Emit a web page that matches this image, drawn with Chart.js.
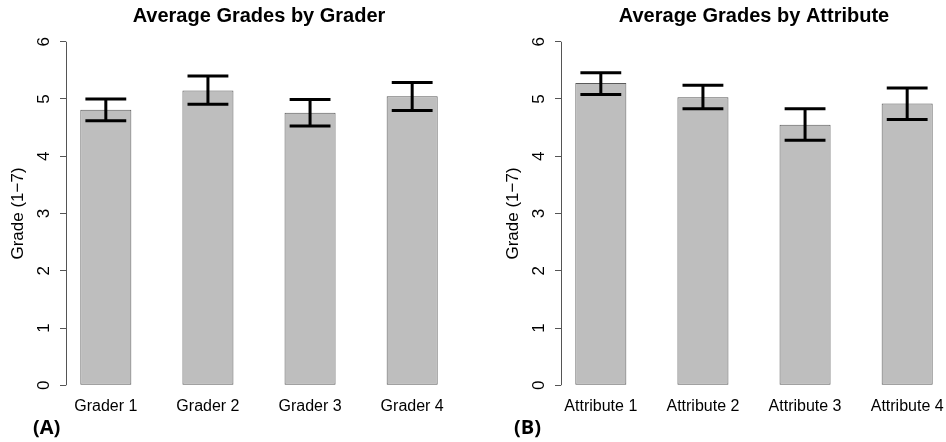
<!DOCTYPE html>
<html>
<head>
<meta charset="utf-8">
<script src="https://cdn.jsdelivr.net/npm/chart.js@4/dist/chart.umd.min.js"></script>
<style>
  html, body { margin: 0; padding: 0; background: #fff; overflow: hidden; }
  body { width: 946px; height: 442px; position: relative; }
  .panel { position: absolute; top: 0; width: 473px; height: 442px; }
  .tag { position: absolute; font: 700 20px "Open Sans", "Liberation Sans", sans-serif; line-height: 20px; color: #000; }
</style>
</head>
<body>
<div class="panel" style="left:0"><canvas id="graderChart" width="473" height="442"></canvas></div>
<div class="panel" style="left:495px"><canvas id="attributeChart" width="473" height="442"></canvas></div>
<div class="tag" style="left:33px; top:417px">(A)</div>
<div class="tag" style="left:514px; top:417px">(B)</div>
<script>
// Panel A: mean grade per grader with upper / lower error limits
const graders = ['Grader 1', 'Grader 2', 'Grader 3', 'Grader 4'];
const graderMeans = [4.81, 5.15, 4.76, 5.05];
const graderUpper = [5.00, 5.40, 4.99, 5.29];
const graderLower = [4.62, 4.91, 4.53, 4.80];

// Panel B: mean grade per attribute with upper / lower error limits
const attributes = ['Attribute 1', 'Attribute 2', 'Attribute 3', 'Attribute 4'];
const attributeMeans = [5.28, 5.03, 4.55, 4.92];
const attributeUpper = [5.46, 5.24, 4.83, 5.19];
const attributeLower = [5.08, 4.83, 4.28, 4.64];

// y-axis tick labels
const gradeTicks = [0, 1, 2, 3, 4, 5, 6];

const FONT = '"Liberation Sans", Arial, sans-serif';
const AXIS_COLOR = '#555555';

// bars sit at 1.5, 3.5, 5.5, ... (unit-wide bars with unit gaps)
const barPos = (i) => 2 * i + 1.5;

// Error bars: vertical whisker plus caps, positioned from the scales
const errorBars = {
  id: 'errorBars',
  afterDatasetsDraw(chart) {
    const ds = chart.data.datasets[0];
    const meta = chart.getDatasetMeta(0);
    const y = chart.scales.y;
    const ctx = chart.ctx;
    ctx.save();
    ctx.strokeStyle = '#000';
    ctx.lineWidth = 3;
    ctx.lineCap = 'butt';
    meta.data.forEach((bar, i) => {
      const yHi = y.getPixelForValue(ds.errUpper[i]);
      const yLo = y.getPixelForValue(ds.errLower[i]);
      const half = bar.width * 0.4;
      ctx.beginPath();
      ctx.moveTo(bar.x, yHi); ctx.lineTo(bar.x, yLo);
      ctx.moveTo(bar.x - half, yHi); ctx.lineTo(bar.x + half, yHi);
      ctx.moveTo(bar.x - half, yLo); ctx.lineTo(bar.x + half, yLo);
      ctx.stroke();
    });
    ctx.restore();
  }
};

// y-axis line spanning only the tick range
const axisLine = {
  id: 'axisLine',
  afterDraw(chart) {
    const y = chart.scales.y;
    const ctx = chart.ctx;
    const x = Math.round(y.right) + 0.5;
    ctx.save();
    ctx.strokeStyle = AXIS_COLOR;
    ctx.lineWidth = 1;
    ctx.beginPath();
    ctx.moveTo(x, y.getPixelForValue(gradeTicks[0]));
    ctx.lineTo(x, y.getPixelForValue(gradeTicks[gradeTicks.length - 1]));
    ctx.stroke();
    ctx.restore();
  }
};

function makeChart(id, title, labels, means, upper, lower) {
  const positions = labels.map((_, i) => barPos(i));
  return new Chart(document.getElementById(id), {
    type: 'bar',
    data: {
      datasets: [{
        data: means.map((v, i) => ({ x: positions[i], y: v })),
        errUpper: upper,
        errLower: lower,
        backgroundColor: '#BEBEBE',
        borderColor: '#5A5A5A',
        borderWidth: 1,
        borderSkipped: false,
        barPercentage: 0.5,
        categoryPercentage: 1.0
      }]
    },
    options: {
      responsive: false,
      animation: false,
      events: [],
      layout: { padding: { left: 0, right: 21, top: 0, bottom: 0 } },
      plugins: {
        legend: { display: false },
        tooltip: { enabled: false },
        title: {
          display: true,
          text: title,
          fullSize: false,
          color: '#000',
          font: { family: FONT, size: 20, weight: 'bold', lineHeight: 1.2 },
          padding: { top: 4, bottom: 0 }
        }
      },
      scales: {
        x: {
          type: 'linear',
          min: 0.72,
          max: 8.28,
          offset: false,
          grid: { display: false },
          border: { display: false },
          afterBuildTicks(scale) { scale.ticks = positions.map(v => ({ value: v })); },
          afterFit(scale) { scale.height = 43; },
          ticks: {
            autoSkip: false,
            maxRotation: 0,
            padding: -10,
            color: '#000',
            font: { family: FONT, size: 16 },
            callback: (value, index) => labels[index]
          }
        },
        y: {
          min: -0.24,
          max: 6.24,
          afterBuildTicks(scale) { scale.ticks = gradeTicks.map(v => ({ value: v })); },
          afterFit(scale) { scale.width = 66; },
          border: { display: false },
          grid: {
            drawOnChartArea: false,
            drawTicks: true,
            tickLength: 6,
            color: AXIS_COLOR
          },
          ticks: {
            minRotation: 90,
            maxRotation: 90,
            crossAlign: 'center',
            padding: 11,
            color: '#000',
            font: { family: FONT, size: 17 },
            callback: (v) => String(v)
          },
          title: {
            display: true,
            text: 'Grade (1\u22127)',
            color: '#000',
            font: { family: FONT, size: 17, lineHeight: 1.2 },
            padding: { top: 8, bottom: 0 }
          }
        }
      }
    },
    plugins: [errorBars, axisLine]
  });
}

makeChart('graderChart', 'Average Grades by Grader', graders, graderMeans, graderUpper, graderLower);
makeChart('attributeChart', 'Average Grades by Attribute', attributes, attributeMeans, attributeUpper, attributeLower);
</script>
</body>
</html>
